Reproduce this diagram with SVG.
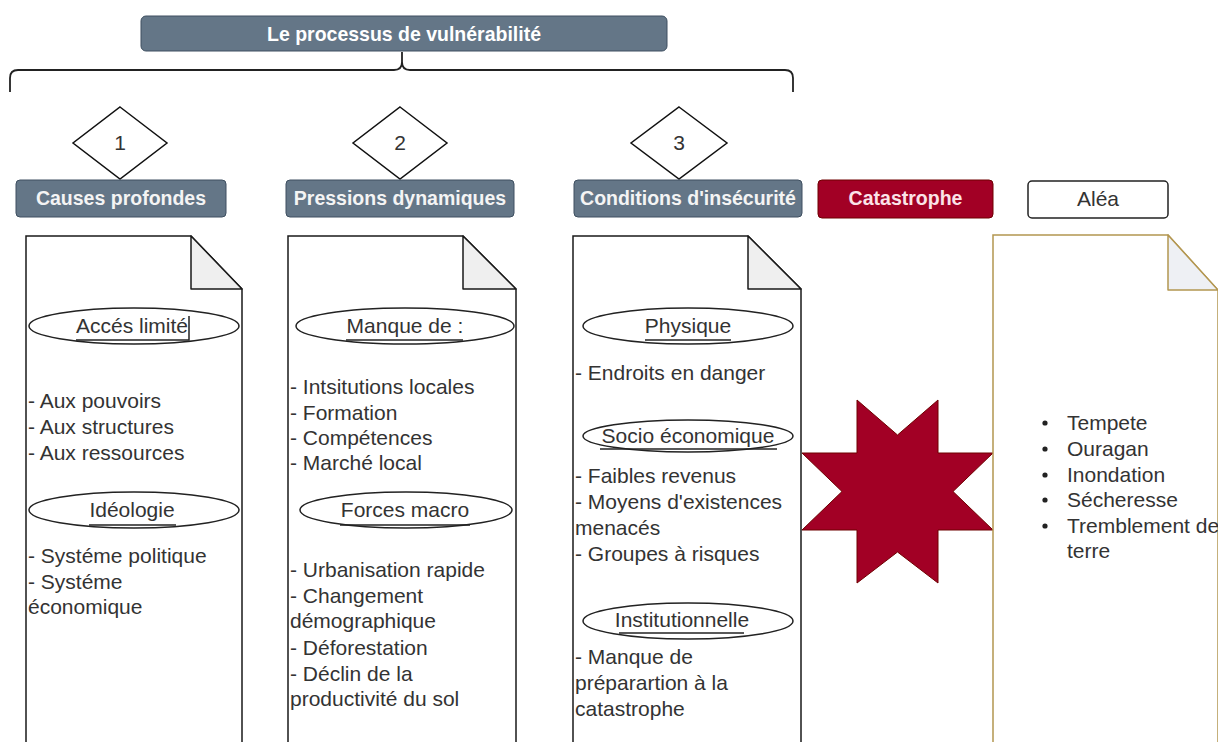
<svg xmlns="http://www.w3.org/2000/svg" width="1218" height="742" viewBox="0 0 1218 742">
<style>
text{font-family:"Liberation Sans",Arial,sans-serif}
.hdr{fill:#647687;stroke:#3e4f60;stroke-width:1}
.htxt{fill:#f4f4f4;font-size:19.5px;font-weight:bold;text-anchor:middle}
.body{fill:#333;font-size:21px}
.ctr{text-anchor:middle}
.doc{fill:#fff;stroke:#1a1a1a;stroke-width:1.5}
.fold{fill:#efefef;stroke:#1a1a1a;stroke-width:1.5;stroke-linejoin:round}
.ell{fill:#fff;stroke:#222;stroke-width:1.5}
.ul{stroke:#222;stroke-width:1.5}
.dia{fill:#fff;stroke:#111;stroke-width:1.5}
</style>
<rect width="1218" height="742" fill="#fff"/>

<g id="title">
<rect x="141" y="16" width="526" height="35" rx="5" class="hdr"/>
<text x="404" y="41" class="htxt" style="font-size:21px;fill:#fff" textLength="274" lengthAdjust="spacingAndGlyphs">Le processus de vulnérabilité</text>
</g>

<g id="connectors">
<path d="M10,92 L10,78 Q10,70 18,70 L394,70 Q402,70 402,62 L402,52 M402,62 Q402,70 410,70 L785,70 Q793,70 793,78 L793,92" fill="none" stroke="#222" stroke-width="1.8"/>
</g>

<g id="diamond1"><polygon points="120,107 167,143 120,179 73,143" class="dia"/><text x="120" y="150" class="body ctr" font-size="20">1</text></g>
<g id="diamond2"><polygon points="400,107 447,143 400,179 353,143" class="dia"/><text x="400" y="150" class="body ctr" font-size="20">2</text></g>
<g id="diamond3"><polygon points="679,107 727,143 679,179 631,143" class="dia"/><text x="679" y="150" class="body ctr" font-size="20">3</text></g>

<g id="causes"><rect x="16" y="180" width="210" height="37" rx="4" class="hdr"/><text x="121" y="205" class="htxt">Causes profondes</text></g>
<g id="pressions"><rect x="286" y="180" width="228" height="37" rx="4" class="hdr"/><text x="400" y="205" class="htxt">Pressions dynamiques</text></g>
<g id="conditions"><rect x="574" y="180" width="228" height="37" rx="4" class="hdr"/><text x="688" y="205" class="htxt">Conditions d'insécurité</text></g>
<g id="catastrophe"><rect x="818" y="180" width="175" height="38" rx="4" fill="#a20025" stroke="#6f0000"/><text x="905.5" y="205" class="htxt" style="fill:#fbe3e8">Catastrophe</text></g>
<g id="alea"><rect x="1028" y="181" width="140" height="37" rx="4" fill="#fff" stroke="#222" stroke-width="1.5"/><text x="1098" y="206" class="body ctr" font-size="19.5">Aléa</text></g>

<g id="doc1">
<path d="M26,745 V236 H191 L242,289 V745" class="doc"/>
<path d="M191,236 V289 H242 Z" class="fold"/>
<ellipse cx="134" cy="326" rx="105" ry="18" class="ell"/>
<text x="132" y="333" class="body ctr">Accés limité</text>
<path d="M76,340 H189 V316" fill="none" class="ul"/>
<text class="body"><tspan x="28" y="408">- Aux pouvoirs</tspan><tspan x="28" y="434">- Aux structures</tspan><tspan x="28" y="460">- Aux ressources</tspan></text>
<ellipse cx="134" cy="510" rx="105" ry="18" class="ell"/>
<text x="132" y="517" class="body ctr">Idéologie</text>
<line x1="89" y1="525" x2="176" y2="525" class="ul"/>
<text class="body"><tspan x="28" y="563">- Systéme politique</tspan><tspan x="28" y="589">- Systéme</tspan><tspan x="28" y="614">économique</tspan></text>
</g>

<g id="doc2">
<path d="M288,745 V236 H463 L516,289 V745" class="doc"/>
<path d="M463,236 V289 H516 Z" class="fold"/>
<ellipse cx="405" cy="326" rx="109" ry="18" class="ell"/>
<text x="405" y="333" class="body ctr">Manque de :</text>
<line x1="346" y1="340" x2="463" y2="340" class="ul"/>
<text class="body"><tspan x="290" y="394">- Intsitutions locales</tspan><tspan x="290" y="420">- Formation</tspan><tspan x="290" y="445">- Compétences</tspan><tspan x="290" y="470">- Marché local</tspan></text>
<ellipse cx="406" cy="510" rx="106" ry="18" class="ell"/>
<text x="405" y="517" class="body ctr">Forces macro</text>
<line x1="340" y1="525" x2="470" y2="525" class="ul"/>
<text class="body"><tspan x="290" y="577">- Urbanisation rapide</tspan><tspan x="290" y="603">- Changement</tspan><tspan x="290" y="628">démographique</tspan><tspan x="290" y="655">- Déforestation</tspan><tspan x="290" y="681">- Déclin de la</tspan><tspan x="290" y="706">productivité du sol</tspan></text>
</g>

<g id="doc3">
<path d="M573,745 V236 H748 L801,289 V745" class="doc"/>
<path d="M748,236 V289 H801 Z" class="fold"/>
<ellipse cx="688" cy="326" rx="105" ry="18" class="ell"/>
<text x="688" y="333" class="body ctr">Physique</text>
<line x1="645" y1="340" x2="731" y2="340" class="ul"/>
<text x="575" y="380" class="body">- Endroits en danger</text>
<ellipse cx="688" cy="436" rx="105" ry="16" class="ell"/>
<text x="688" y="443" class="body ctr">Socio économique</text>
<line x1="600" y1="449" x2="777" y2="449" class="ul"/>
<text class="body"><tspan x="575" y="483">- Faibles revenus</tspan><tspan x="575" y="509">- Moyens d'existences</tspan><tspan x="575" y="535">menacés</tspan><tspan x="575" y="561">- Groupes à risques</tspan></text>
<ellipse cx="688" cy="621" rx="105" ry="18" class="ell"/>
<text x="682" y="627" class="body ctr">Institutionnelle</text>
<line x1="619" y1="633" x2="744" y2="633" class="ul"/>
<text class="body"><tspan x="575" y="664">- Manque de</tspan><tspan x="575" y="690">préparartion à la</tspan><tspan x="575" y="716">catastrophe</tspan></text>
</g>

<g id="star">
<polygon points="857,400 897.5,435 938,400 938,453 993,453 953,491.5 993,530 938,530 938,583 897.5,552 857,583 857,530 802,530 842,491.5 802,453 857,453" fill="#a20025" stroke="#6f0000" stroke-width="1"/>
</g>

<g id="doc-alea">
<path d="M993,745 V235 H1168 L1218,290 V745" fill="#fff" stroke="#b39650" stroke-width="1.5"/>
<path d="M1168,235 V290 H1218 Z" fill="#eef0f4" stroke="#b39650" stroke-width="1.5" stroke-linejoin="round"/>
<g fill="#222"><circle cx="1045" cy="423" r="2.6"/><circle cx="1045" cy="449" r="2.6"/><circle cx="1045" cy="475" r="2.6"/><circle cx="1045" cy="500" r="2.6"/><circle cx="1045" cy="526" r="2.6"/></g>
<text class="body"><tspan x="1067" y="430">Tempete</tspan><tspan x="1067" y="456">Ouragan</tspan><tspan x="1067" y="482">Inondation</tspan><tspan x="1067" y="507">Sécheresse</tspan><tspan x="1067" y="533">Tremblement de</tspan><tspan x="1067" y="558">terre</tspan></text>
</g>
</svg>
